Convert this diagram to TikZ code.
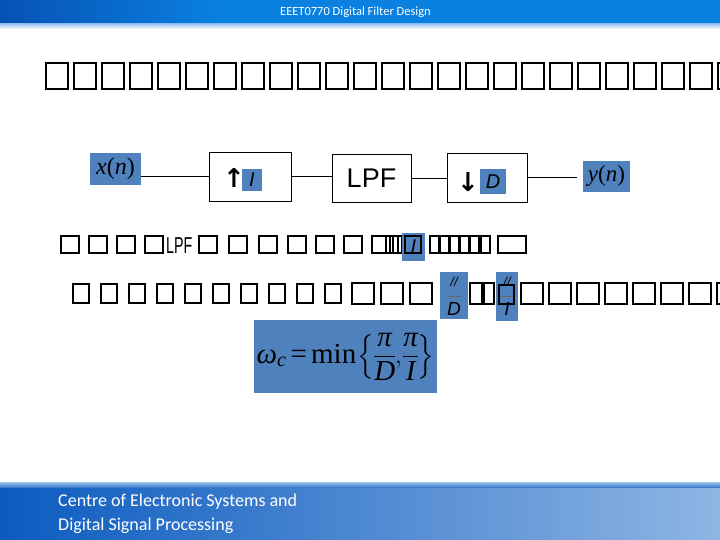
\documentclass[tikz,border=0pt]{standalone}
\usepackage{amsmath}
\usepackage{graphicx}
\usepackage{fontspec}
\setmainfont{Liberation Serif}
\newfontfamily\arialf{Liberation Sans}
\newfontfamily\calib{Carlito}
\newfontfamily\djv{DejaVu Sans}
\usetikzlibrary{arrows.meta}
\definecolor{ppblue}{HTML}{4F81BD}
\definecolor{topL}{HTML}{0652B4}
\definecolor{topR}{HTML}{0A80E0}
\definecolor{stripC}{HTML}{9CC6F0}
\definecolor{botL}{HTML}{0B5BC0}
\definecolor{botR}{HTML}{8FB5E3}
\tikzset{
  tofuA/.style={line width=2.4pt},
  tofuB/.style={line width=1.2pt},
  blk/.style={draw, line width=0.9pt, inner sep=0pt},
  bluebox/.style={fill=ppblue, inner sep=0pt, text=black},
  conn/.style={line width=0.9pt},
  plain/.style={inner sep=0pt}
}
\begin{document}
\begin{tikzpicture}[x=1pt,y=-1pt]
\useasboundingbox (0,0) rectangle (720,540);
\fill[white] (0,0) rectangle (720,540);
% top banner
\shade[left color=topL, right color=topR] (0,0) rectangle (220,24);
\fill[topR] (219.5,0) rectangle (720,24);
\shade[top color=stripC, bottom color=white] (0,24) rectangle (720,29);
\node[plain, text=white] (ttl) at (355.5,12) {\calib\fontsize{12.5}{13}\selectfont EEET0770 Digital Filter Design};
% bottom banner
\shade[left color=botL, right color=botR] (0,484) rectangle (720,540);
\shade[top color=stripC, bottom color=botL!60!botR] (0,482) rectangle (720,487);
\node[plain, anchor=base west, text=white] (b1) at (58,506) {\calib\fontsize{18}{18}\selectfont Centre of Electronic Systems and};
\node[plain, anchor=base west, text=white] (b2) at (58,530) {\calib\fontsize{18}{18}\selectfont Digital Signal Processing};
% title row of missing glyphs
\foreach \i in {0,...,24} \draw[tofuA] (46+28*\i,63) rectangle ++(22,26);
% block diagram
\node[bluebox, minimum width=51pt, minimum height=32pt] (xn) at (115.5,169) {\fontsize{24}{24}\selectfont\textit{x}(\textit{n})};
\node[blk, minimum width=82pt, minimum height=49pt] (up) at (250,176.5) {};
\node[blk, minimum width=79pt, minimum height=48pt] (lpf) at (371.5,178) {\arialf\fontsize{27}{27}\selectfont LPF};
\node[blk, minimum width=80pt, minimum height=49pt] (dn) at (487,177.5) {};
\node[bluebox, minimum width=47pt, minimum height=31pt] (yn) at (606.5,176.5) {\fontsize{23}{23}\selectfont\textit{y}(\textit{n})};
\node[plain] (ua) at (234,177.5) {\djv\bfseries\fontsize{26}{26}\selectfont ↑};
\node[bluebox, minimum width=20pt, minimum height=22pt] (ib) at (252,180) {\arialf\itshape\fontsize{20}{20}\selectfont I};
\node[plain] (da) at (468,182.5) {\djv\bfseries\fontsize{26}{26}\selectfont ↓};
\node[bluebox, minimum width=26pt, minimum height=25pt] (db) at (493,181.5) {\arialf\itshape\fontsize{20}{20}\selectfont D};
\draw[conn] (up.west -| xn.east) -- (up.west);
\draw[conn] (up.east) -- (up.east -| lpf.west);
\draw[conn] (lpf.east) -- (lpf.east -| dn.west);
\draw[conn, shorten >=6pt] (dn.east) -- (dn.east -| yn.west);
% row 2
\foreach \x in {61,89,117,145,199,229,259,288,316,344,372} \draw[tofuB] (\x,236) rectangle ++(18,17);
\draw[tofuB] (386,236) rectangle ++(12,17);
\draw[tofuB] (393,236) rectangle ++(9,17);
\foreach \x in {430,440,450,460,470,481} \draw[tofuB] (\x,236) rectangle ++(9,17);
\draw[tofuB] (498,236) rectangle ++(28,17);
\node[plain, anchor=base west] (lpf2) at (166,253) {\arialf\fontsize{23}{23}\selectfont\scalebox{0.62}[1]{LPF}};
\node[bluebox, minimum width=23pt, minimum height=28pt] (i2) at (413.5,247) {\arialf\itshape\fontsize{20}{20}\selectfont I};
\draw[tofuB] (405,236) rectangle ++(16,17);
% row 3
\foreach \i in {0,...,9} \draw[tofuB] (73+28*\i,284) rectangle ++(16,19);
\foreach \x in {352,381,410} \draw[tofuA] (\x,283) rectangle ++(22,21);
\node[bluebox, minimum width=28pt, minimum height=47pt] (fd) at (454,295.5) {};
\node[plain] (fdn) at (454,282) {\arialf\itshape\fontsize{13}{13}\selectfont //};
\node[plain] (fdd) at (454,309) {\arialf\itshape\fontsize{19}{19}\selectfont D};
\draw[line width=0.6pt, black!60] (447,296) -- (461,296);
\foreach \x/\w in {470/14,482/12} \draw[tofuA] (\x,283) rectangle ++(\w,21);
\node[bluebox, minimum width=22pt, minimum height=49pt] (fi) at (507,296.5) {};
\node[plain] (fin) at (507,282) {\arialf\itshape\fontsize{13}{13}\selectfont //};
\node[plain] (fid) at (507,309) {\arialf\itshape\fontsize{19}{19}\selectfont I};
\draw[line width=0.6pt, black!60] (500,296) -- (514,296);
\draw[tofuA] (499,285) rectangle ++(15,19);
\foreach \i in {0,...,7} \draw[tofuA] (521+28*\i,283) rectangle ++(22,21);
% formula
\node[bluebox, minimum width=183pt, minimum height=73pt] (fm) at (345.5,356.5) {\fontsize{29}{33}\selectfont\thickmuskip=3mu\thinmuskip=1mu\nulldelimiterspace=0pt$\displaystyle \text{\itshape ω}_{\text{\itshape c}} \mathrel{\text{=}} \text{min}\left\{\frac{\text{\itshape π}}{\text{\itshape D}},\frac{\text{\itshape π}}{\text{\itshape I}}\right\}$};
\end{tikzpicture}
\end{document}
